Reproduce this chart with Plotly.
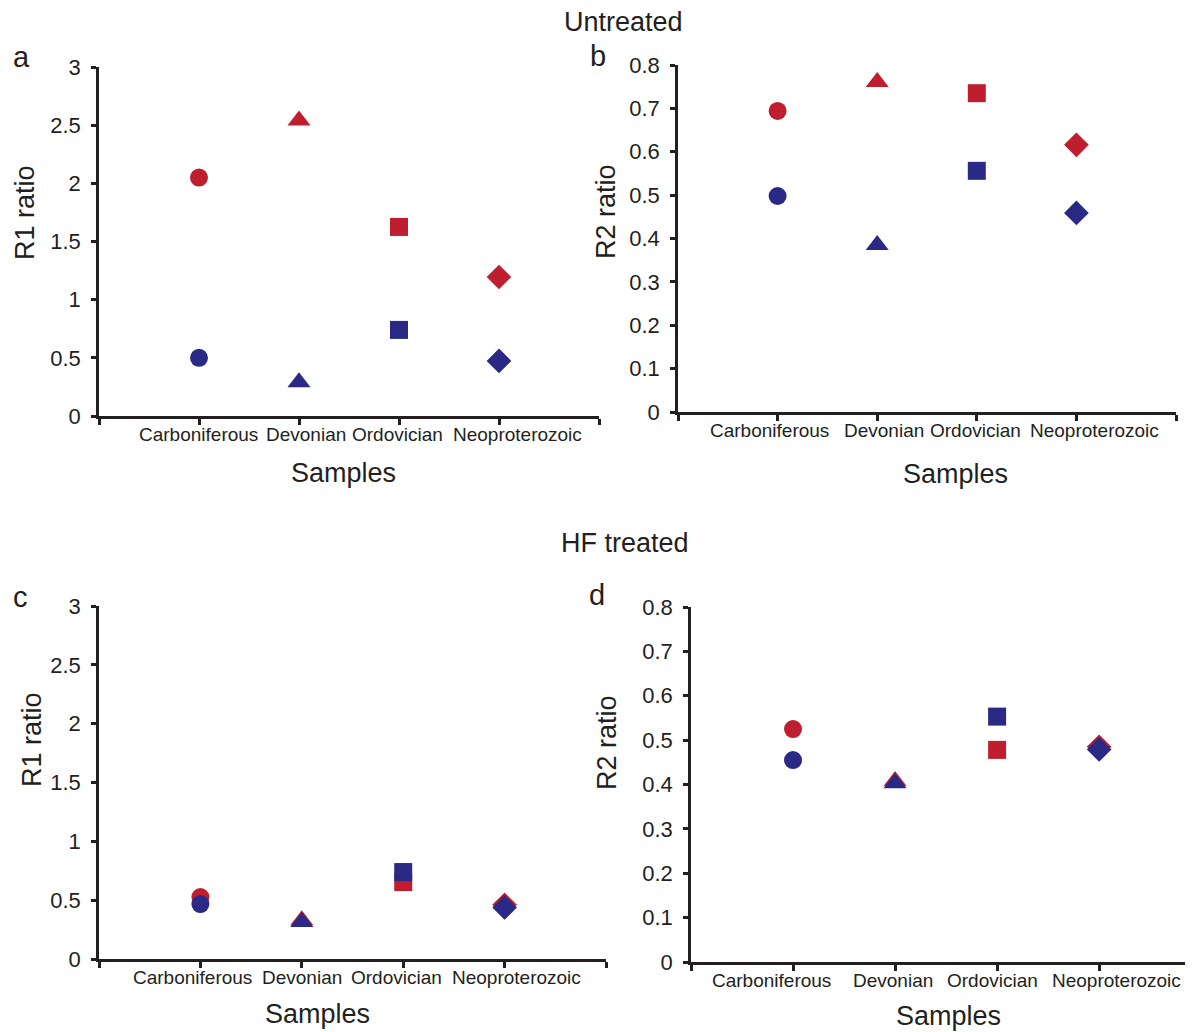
import plotly.graph_objects as go

# page is drawn with an 8px body margin, so the figure is sized/offset for it
OFF = 8
PAGE_W, PAGE_H = 1193, 1032
W, H = PAGE_W - OFF, PAGE_H - OFF

categories = ["Carboniferous", "Devonian", "Ordovician", "Neoproterozoic"]
symbols = ["circle", "triangle-up", "square", "diamond"]

# Panel a: R1 ratio, untreated
a_red = [2.05, 2.54, 1.625, 1.195]
a_blue = [0.50, 0.29, 0.74, 0.473]
# Panel b: R2 ratio, untreated
b_red = [0.694, 0.761, 0.735, 0.616]
b_blue = [0.498, 0.385, 0.556, 0.459]
# Panel c: R1 ratio, HF treated
c_red = [0.527, 0.33, 0.654, 0.46]
c_blue = [0.467, 0.315, 0.739, 0.438]
# Panel d: R2 ratio, HF treated
d_red = [0.525, 0.408, 0.478, 0.485]
d_blue = [0.455, 0.403, 0.553, 0.479]

r1_ticks = [0, 0.5, 1, 1.5, 2, 2.5, 3]
r1_ticktext = ["0", "0.5", "1", "1.5", "2", "2.5", "3"]
r2_ticks = [0, 0.1, 0.2, 0.3, 0.4, 0.5, 0.6, 0.7, 0.8]
r2_ticktext = ["0", "0.1", "0.2", "0.3", "0.4", "0.5", "0.6", "0.7", "0.8"]

RED = "#BE1E2D"
BLUE = "#2A2A86"
INK = "#231F20"
FONT = "Liberation Sans, Arial, sans-serif"

sizes = {"circle": 18, "triangle-up": 20, "square": 18, "diamond": 19}

fig = go.Figure()

# (xaxis, yaxis, red, blue, horizontal nudges of the category labels in px)
panels = [
    ("x", "y", a_red, a_blue, [-1, 7, -2, 18]),
    ("x2", "y2", b_red, b_blue, [-8, 7, -1, 18]),
    ("x3", "y3", c_red, c_blue, [-8, 0, -7, 12]),
    ("x4", "y4", d_red, d_blue, [-22, -2, -5, 17]),
]

xs = list(range(len(categories)))
for xa, ya, red, blue, _ in panels:
    for vals, col in ((red, RED), (blue, BLUE)):
        fig.add_trace(go.Scatter(
            x=xs, y=vals, xaxis=xa, yaxis=ya, mode="markers",
            marker=dict(symbol=symbols, color=col, opacity=1,
                        size=[sizes[s] for s in symbols],
                        line=dict(width=0)),
            showlegend=False, hoverinfo="skip", cliponaxis=False,
        ))


def px_x(p):
    return (p - OFF) / W


def px_y(p):
    return 1 - (p - OFF) / H


def xaxis(dom, rng, anchor, tickvals):
    return dict(domain=[px_x(dom[0]), px_x(dom[1])], range=rng, anchor=anchor,
                tickmode="array", tickvals=tickvals, showticklabels=False,
                automargin=False,
                showline=True, linecolor=INK, linewidth=2.5,
                ticks="outside", ticklen=6, tickwidth=2.5, tickcolor=INK,
                showgrid=False, zeroline=False)


def yaxis(dom, rng, anchor, tv, tt):
    return dict(domain=[px_y(dom[1]), px_y(dom[0])], range=rng, anchor=anchor,
                tickmode="array", tickvals=tv, ticktext=tt, automargin=False,
                showline=True, linecolor=INK, linewidth=2.5,
                ticks="outside", ticklen=5, tickwidth=2.5, tickcolor=INK,
                showgrid=False, zeroline=False, ticklabelstandoff=6,
                tickfont=dict(family=FONT, size=22, color=INK))


layout = dict(
    width=W, height=H,
    margin=dict(l=0, r=0, t=0, b=0, autoexpand=False),
    paper_bgcolor="white", plot_bgcolor="white",
    font=dict(family=FONT, color=INK),
    xaxis=xaxis((99, 599), [-1, 4], "y", [-1, 0, 1, 2, 3, 4]),
    yaxis=yaxis((67, 416), [0, 3], "x", r1_ticks, r1_ticktext),
    xaxis2=xaxis((678, 1176), [-1, 4], "y2", [-1, 0, 1, 2, 3, 4]),
    yaxis2=yaxis((65, 412), [0, 0.8], "x2", r2_ticks, r2_ticktext),
    xaxis3=xaxis((99, 606), [-1, 4], "y3", [-1, 0, 1, 2, 3, 4]),
    yaxis3=yaxis((606, 959), [0, 3], "x3", r1_ticks, r1_ticktext),
    xaxis4=xaxis((691, 1193), [-1, 3.92], "y4", [-1, 0, 1, 2, 3]),
    yaxis4=yaxis((607, 962), [0, 0.8], "x4", r2_ticks, r2_ticktext),
)

ann = []

# category labels under each x axis, placed at the category positions
for xa, ya, _, _, nudges in panels:
    for i, cat in enumerate(categories):
        ann.append(dict(text=cat, x=i, xref=xa, y=0, yref=ya,
                        showarrow=False, xanchor="center", yanchor="top",
                        xshift=nudges[i], yshift=-6,
                        font=dict(family=FONT, size=19, color=INK)))


def text(t, x, y, size, angle=0):
    ann.append(dict(text=t, x=px_x(x), y=px_y(y), xref="paper", yref="paper",
                    showarrow=False, xanchor="center", yanchor="middle",
                    textangle=angle, font=dict(family=FONT, size=size, color=INK)))


text("Untreated", 623, 22, 27)
text("HF treated", 625, 543, 27)
text("a", 21, 57, 29)
text("b", 598, 56, 29)
text("c", 20, 597, 29)
text("d", 597, 595, 29)
text("R1 ratio", 25, 213, 27, -90)
text("R2 ratio", 606, 212, 27, -90)
text("R1 ratio", 32, 740, 27, -90)
text("R2 ratio", 607, 743, 27, -90)
text("Samples", 343, 473, 27)
text("Samples", 955, 474, 27)
text("Samples", 317, 1014, 27)
text("Samples", 948, 1016, 27)

layout["annotations"] = ann
fig.update_layout(**layout)

fig.write_html("out.html")
